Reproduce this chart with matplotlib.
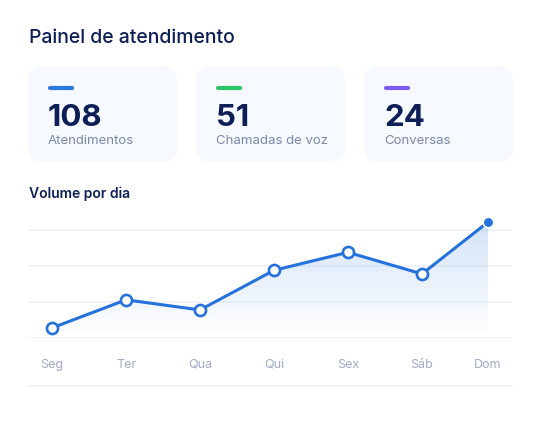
import numpy as np
import matplotlib
matplotlib.use("Agg")
from matplotlib import pyplot as plt
from matplotlib.patches import FancyBboxPatch
from matplotlib.transforms import blended_transform_factory

plt.rcParams['font.family'] = ['Inter', 'DejaVu Sans']

# ---- data ----
card_values = ["108", "51", "24"]
card_labels = ["Atendimentos", "Chamadas de voz", "Conversas"]
card_colors = ["#2a78e0", "#2cc565", "#7c5cf5"]

days = ["Seg", "Ter", "Qua", "Qui", "Sex", "Sáb", "Dom"]
volume = [6.4, 10.3, 8.9, 14.4, 16.9, 13.9, 21.1]

NAVY = "#0d1f55"
GREY = "#7c88a6"
BLUE = "#2672dc"
W, H = 541, 425

fig = plt.figure(figsize=(W / 100, H / 100), dpi=100)

# background axes in pixel coords
bg = fig.add_axes([0, 0, 1, 1])
bg.set_xlim(0, W)
bg.set_ylim(H, 0)
bg.axis("off")

bg.text(29, 43, "Painel de atendimento", fontsize=14, fontweight="medium",
        color=NAVY, va="baseline")

card_x = [28, 196, 364]
for x0, val, lab, col in zip(card_x, card_values, card_labels, card_colors):
    card = FancyBboxPatch((x0, 66), 149, 96, boxstyle="round,pad=0,rounding_size=15",
                          fc="#f6f9ff", ec="none")
    bg.add_patch(card)
    bg.plot([x0 + 22, x0 + 44], [88, 88], color=col, lw=3, solid_capstyle="round")
    bg.text(x0 + 20, 126, val, fontsize=22.5, fontweight="bold", color=NAVY, va="baseline")
    bg.text(x0 + 20, 144, lab, fontsize=9.5, color=GREY, va="baseline")

bg.text(29, 198, "Volume por dia", fontsize=10, fontweight="semibold",
        color=NAVY, va="baseline")
bg.plot([28, 512], [386, 386], color="#eef2f8", lw=1.2)

# ---- line chart ----
ax = fig.add_axes([28 / W, (H - 338) / H, 484 / W, 128 / H])
ax.set_facecolor("none")
xpos = np.arange(len(days), dtype=float)
xpos[-1] = 5.892  # last point sits a bit inside the frame
ax.set_xlim(-24 / 74, 6 + 16 / 74)
ax.set_ylim(5, 5 + 128 / 7.2)

for g in [5, 10, 15, 20]:
    ax.axhline(g, color="#edf2f8", lw=1.2, zorder=0)

# gradient fill under the line
poly = ax.fill_between(xpos, volume, 5, color="none", lw=0)
grad = np.zeros((100, 1, 4))
grad[..., 0] = 38 / 255
grad[..., 1] = 115 / 255
grad[..., 2] = 221 / 255
grad[:, 0, 3] = np.linspace(0.2, 0.0, 100)
img = ax.imshow(grad, extent=[xpos[0], xpos[-1], 5, max(volume)], aspect="auto",
                origin="upper", zorder=1)
img.set_clip_path(poly.get_paths()[0], transform=ax.transData)

ax.plot(xpos, volume, color=BLUE, lw=2.2, zorder=3, solid_joinstyle="round")
ax.plot(xpos[:-1], volume[:-1], "o", ms=8, mfc="white", mec=BLUE, mew=1.9,
        zorder=4, clip_on=False)
ax.plot(xpos[-1], volume[-1], "o", ms=7.6, mfc=BLUE, mec="white", mew=1.2,
        zorder=4, clip_on=False)

ax.set_xticks([])
ax.set_yticks([])
for s in ax.spines.values():
    s.set_visible(False)

# day labels on a common baseline
lab_tr = blended_transform_factory(ax.transData, bg.transData)
for x, d in zip(xpos, days):
    bg.text(x, 368, d, transform=lab_tr, fontsize=9, color="#a0aac4",
            ha="center", va="baseline")

fig.savefig("out.png", dpi=100)
